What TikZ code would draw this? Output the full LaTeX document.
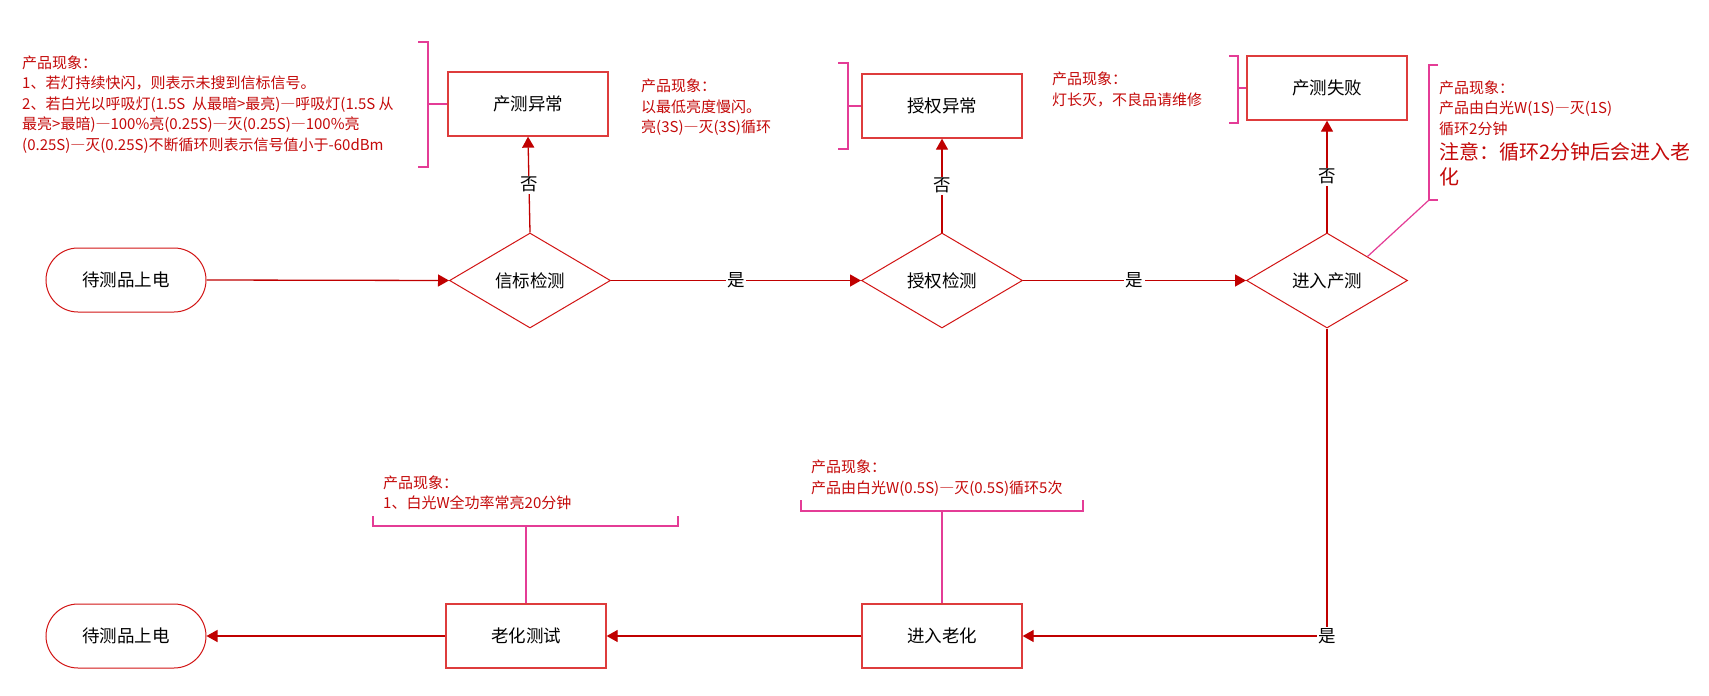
\documentclass[tikz,border=0pt]{standalone}
\usepackage{fontspec}
\setmainfont{Noto Sans CJK SC}
\usetikzlibrary{shapes.geometric,arrows.meta,calc}
\definecolor{arrowred}{RGB}{192,0,0}
\definecolor{boxred}{RGB}{222,60,60}
\definecolor{linered}{RGB}{210,20,20}
\definecolor{pinkc}{RGB}{228,60,150}
\definecolor{notered}{RGB}{196,10,10}
\newcommand\fwdash{{\addfontfeature{RawFeature=+fwid}—}}
\begin{document}
\begin{tikzpicture}[x=1pt,y=-1pt,
  every node/.style={font=\fontsize{17.5}{21}\selectfont},
  proc/.style={draw=boxred, line width=1.3pt, minimum width=160pt, minimum height=64pt, inner sep=0pt},
  term/.style={draw=linered, line width=1pt, rounded corners=32pt, minimum width=160pt, minimum height=64pt, inner sep=0pt},
  decide/.style={diamond, draw=linered, line width=1pt, minimum width=161pt, minimum height=95pt, inner sep=0pt},
  flow/.style={draw=arrowred, line width=1.3pt, -{Triangle[length=11pt,width=12pt]}},
  lab/.style={fill=white, inner sep=1.5pt},
  brk/.style={draw=pinkc, line width=1.2pt},
  note/.style={text=notered, font=\fontsize{15}{20.5}\selectfont, align=left, anchor=west, inner sep=0pt}
]
\useasboundingbox[fill=white] (0,0) rectangle (1709,696);

% main row
\node[term]   (start) at (126,280) {待测品上电};
\node[decide] (d1)    at (530,280.5) {信标检测};
\node[decide] (d2)    at (942,280.5) {授权检测};
\node[decide] (d3)    at (1327,280.5) {进入产测};

% top boxes
\node[proc] (b1) at (528,104) {产测异常};
\node[proc] (b2) at (942,106) {授权异常};
\node[proc] (b3) at (1327,88) {产测失败};

% bottom row
\node[term] (end)  at (126,636) {待测品上电};
\node[proc] (test) at (526,636) {老化测试};
\node[proc] (age)  at (942,636) {进入老化};

% connectors
\draw[flow] (start.east) -- (d1.west);
\draw[flow] (d1.east) -- node[lab]{是} (d2.west);
\draw[flow] (d2.east) -- node[lab]{是} (d3.west);
\draw[flow] (d1.north) -- node[lab]{否} (b1.south);
\draw[flow] (d2.north) -- node[lab]{否} (b2.south);
\draw[flow] (d3.north) -- node[lab]{否} (b3.south);
\draw[flow] (d3.south) |- node[lab,pos=0.5]{是} (age.east);
\draw[flow] (age.west) -- (test.east);
\draw[flow] (test.west) -- (end.east);

% notes
\node[note] (n1) at (22,104.5) {产品现象：\\
1、若灯持续快闪，则表示未搜到信标信号。\\
2、若白光以呼吸灯(1.5S\ \ 从最暗>最亮)\fwdash 呼吸灯(1.5S 从\\
最亮>最暗)\fwdash 100\%亮(0.25S)\fwdash 灭(0.25S)\fwdash 100\%亮\\
(0.25S)\fwdash 灭(0.25S)不断循环则表示信号值小于-60dBm};
\node[note] (n2) at (641,107.5) {产品现象：\\以最低亮度慢闪。\\亮(3S)\fwdash 灭(3S)循环};
\node[note] (n3) at (1052,89.5) {产品现象：\\灯长灭，不良品请维修};
\node[note] (n4a) at (1439,108) {产品现象：\\产品由白光W(1S)\fwdash 灭(1S)\\循环2分钟};
\node[note, font=\fontsize{20}{25}\selectfont] (n4b) at (1439,164.5) {注意：循环2分钟后会进入老\\化};
\node[note] (n5) at (383,493) {产品现象：\\1、白光W全功率常亮20分钟};
\node[note] (n6) at (811,478) {产品现象：\\产品由白光W(0.5S)\fwdash 灭(0.5S)循环5次};

% brackets
\coordinate (k1) at (428,104);
\draw[brk] (418,42) -- (428,42) -- (428,167) -- (418,167);
\draw[brk] (k1) -- (b1.west);
\coordinate (k2) at (848,106);
\draw[brk] (838,63) -- (848,63) -- (848,149) -- (838,149);
\draw[brk] (k2) -- (b2.west);
\coordinate (k3) at (1238,88);
\draw[brk] (1229,56) -- (1238,56) -- (1238,123) -- (1229,123);
\draw[brk] (k3) -- (b3.west);
\coordinate (k4) at (1429,200);
\draw[brk] (1438,65) -- (1429,65) -- (k4) -- (1438,200);
\draw[brk] (k4) -- ($(d3.north)!0.5!(d3.east)$);
\coordinate (k5) at (526,526);
\draw[brk] (373,516) -- (373,526) -- (678,526) -- (678,516);
\draw[brk] (k5) -- (test.north);
\coordinate (k6) at (942,511);
\draw[brk] (801,500) -- (801,511) -- (1083,511) -- (1083,500);
\draw[brk] (k6) -- (age.north);
\end{tikzpicture}
\end{document}
